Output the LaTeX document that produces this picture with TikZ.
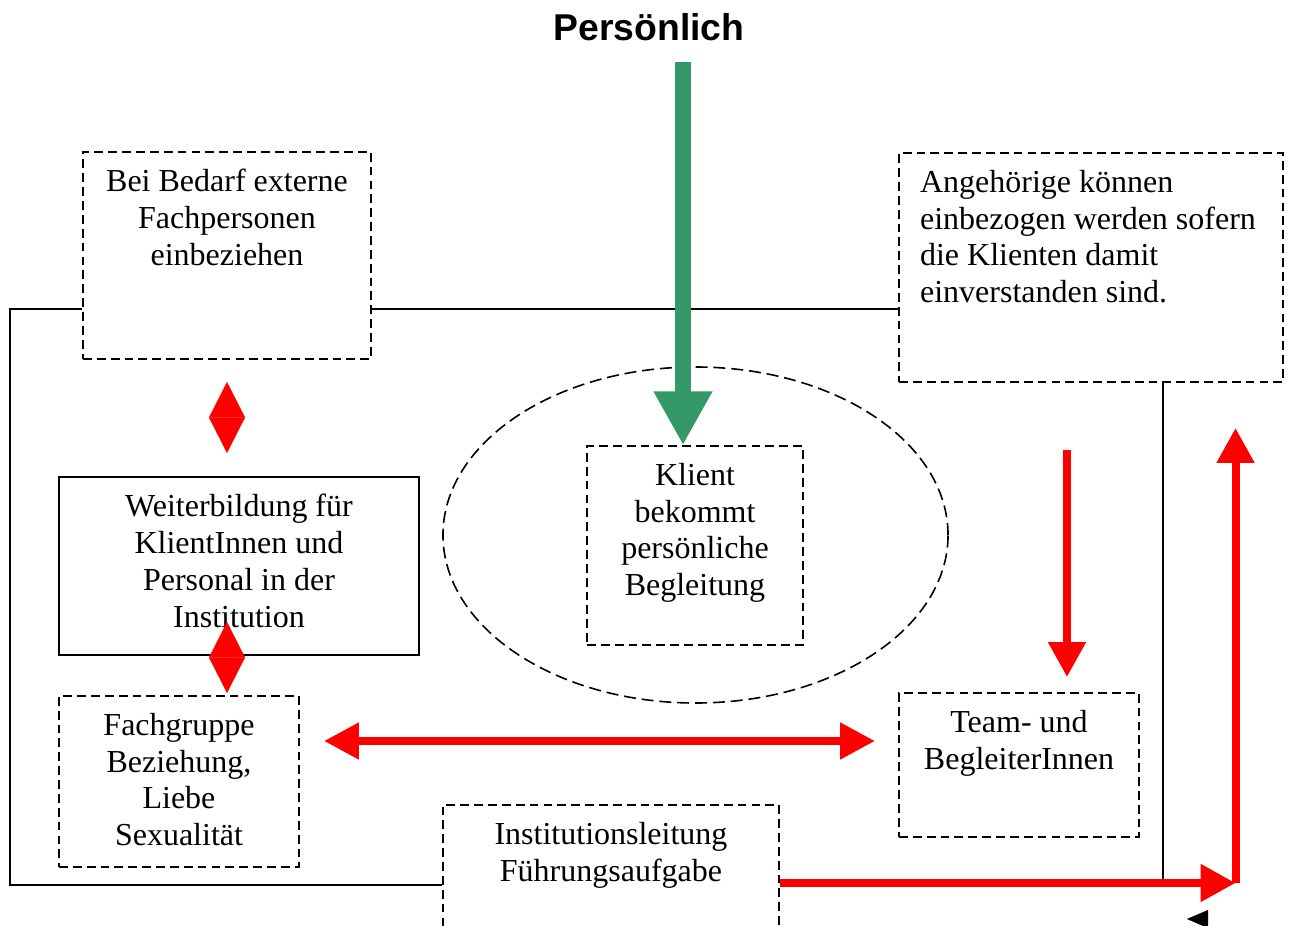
\documentclass[tikz,border=0pt]{standalone}
\usepackage{fontspec}
\setmainfont{Liberation Serif}
\newfontfamily\headfont{Liberation Sans}
\usepackage{xcolor}
\usepackage{tikz}
\usetikzlibrary{arrows.meta}
\usetikzlibrary{shapes.geometric}
\definecolor{seagreen}{HTML}{339966}
% box contents: width, height, lines
\newcommand{\boxtxt}[3]{\begin{minipage}[c][#2][t]{#1}\vspace*{6.4pt}\centering #3\end{minipage}}
\newcommand{\boxtxtl}[3]{\begin{minipage}[c][#2][t]{#1}\vspace*{6.4pt}\raggedright\leftskip=7.9pt #3\end{minipage}}

\begin{document}
\begin{tikzpicture}[x=0.375pt, y=-0.375pt,
    txt/.style={font=\fontsize{12}{13.8}\selectfont, inner sep=0pt},
    dbox/.style={txt, draw, line width=0.6pt, dash pattern=on 3.3pt off 1.9pt},
    sbox/.style={txt, draw, line width=0.75pt},
    ring/.style={ellipse, draw, line width=0.6pt, dash pattern=on 4.5pt off 2.2pt,
                 minimum width=189.4pt, minimum height=126pt, inner sep=0pt},
    link/.style={line width=0.6pt},
    grnarr/.style={seagreen, line width=6pt, -{Triangle[length=20.2pt,width=20.6pt]}},
    redarr/.style={red, line width=3pt, -{Triangle[length=13.1pt,width=13.5pt]}},
    dblarr/.style={red, line width=3pt, {Triangle[length=13.1pt,width=13.1pt]}-{Triangle[length=13.1pt,width=13.1pt]}},
    diam/.style={red, line width=0.1pt, {Triangle[length=13.3pt,width=13.5pt]}-{Triangle[length=13.3pt,width=13.5pt]}}
  ]
  \useasboundingbox (0,0) rectangle (1293,926);
  \clip (0,0) rectangle (1293,926);

  \node[font=\headfont\bfseries\fontsize{14}{16}\selectfont] (title) at (649,27) {Persönlich};

  \node[ring] (ring) at (695.5,535) {};

  \node[dbox] (bedarf) at (227,255.5) {\boxtxt{108pt}{77.6pt}{Bei Bedarf externe\\Fachpersonen\\einbeziehen}};
  \node[dbox] (angeh) at (1091,267.5) {\boxtxtl{144pt}{85.9pt}{Angehörige können\\einbezogen werden sofern\\die Klienten damit\\einverstanden sind.}};
  \node[sbox] (weiter) at (239,566) {\boxtxt{135pt}{66.75pt}{Weiterbildung für\\KlientInnen und\\Personal in der\\Institution}};
  \node[dbox] (klient) at (695,545.5) {\boxtxt{81pt}{74.6pt}{Klient\\bekommt\\persönliche\\Begleitung}};
  \node[dbox] (team) at (1019,765) {\boxtxt{90pt}{54pt}{Team- und\\BegleiterInnen}};
  \node[dbox] (fach) at (179,781.5) {\boxtxt{90pt}{64.1pt}{Fachgruppe\\Beziehung,\\Liebe\\Sexualität}};
  \node[dbox] (inst) at (611,905) {\boxtxt{126pt}{75pt}{Institutionsleitung\\Führungsaufgabe}};

  % black frame lines
  \coordinate (lt) at (10,309);
  \coordinate (lb) at (10,885);
  \coordinate (rv) at (1163,883);
  \draw[link] (bedarf.west |- lt) -- (lt) -- (lb) -- (inst.west |- lb);
  \draw[link] (bedarf.east |- lt) -- (angeh.west |- lt);
  \draw[link] (rv |- angeh.south) -- (rv);

  % green arrow
  \coordinate (gs) at (683,62);
  \draw[grnarr] (gs) -- (gs |- klient.north);

  % red arrows
  \coordinate (rs) at (1067,450);
  \coordinate (re) at (1067,677);
  \draw[redarr] (rs) -- (re);
  \coordinate (ha) at (324,741);
  \coordinate (hb) at (875,741);
  \draw[dblarr] (ha) -- (hb);
  \coordinate (corner) at (1235.5,883);
  \coordinate (up) at (1235.5,428);
  \draw[redarr] (inst.east |- corner) -- (corner);
  \draw[redarr] (corner) -- (up);

  % diamonds
  \coordinate (d1t) at (227,382);
  \coordinate (d1b) at (227,453);
  \draw[diam] (d1t) -- (d1b);
  \coordinate (d2t) at (227,622);
  \coordinate (d2b) at (227,693);
  \draw[diam] (d2t) -- (d2b);

  % cut-off tip at the bottom
  \coordinate (sk) at (1208,919);
  \draw[-{Triangle[length=7.9pt,width=6.75pt]}, line width=0.1pt] (sk) -- ++(-21,0);
\end{tikzpicture}
\end{document}
